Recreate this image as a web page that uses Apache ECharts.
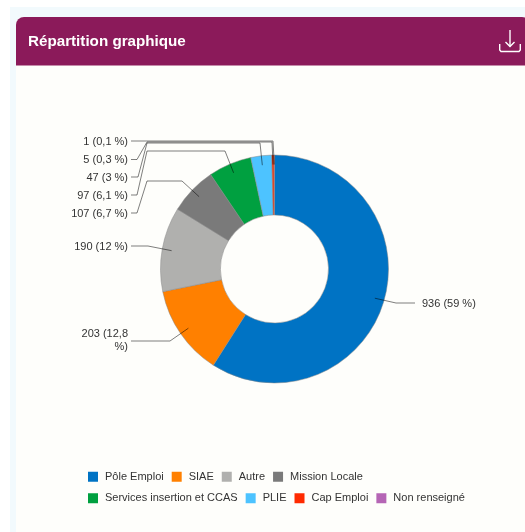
<!DOCTYPE html>
<html><head><meta charset="utf-8">
<style>html,body{margin:0;padding:0;background:#fff}#c{width:525px;height:532px}</style>
<script src="https://cdn.jsdelivr.net/npm/echarts@6/dist/echarts.min.js"></script>
</head><body><div id="c"></div>
<script>
const categories = ['Pôle Emploi','SIAE','Autre','Mission Locale','Services insertion et CCAS','PLIE','Cap Emploi','Non renseigné'];
const values = [936,203,190,107,97,47,5,1];
const colors = ['#0073c4','#ff8000','#b0b0ae','#7a7a7a','#00a040','#4dc3ff','#ff2a00','#b565b5'];
const titleText = 'Répartition graphique';
// label anchor (text edge x, y) and leader elbows, layout only
const labelAnchors = [[422,304],[128,340.5],[128,247],[128,213.5],[128,195.5],[128,177.5],[128,160],[128,142]];
const leaderElbows = [
  [[396,303],[415,303]],
  [[170,341],[131,341]],
  [[148,246],[131,246]],
  [[182,181],[147,181],[137,213],[131,213]],
  [[225,151],[147,151],[137,195],[131,195]],
  [[260,143],[147,143],[138,177],[131,177]],
  [[272,142],[147,142],[137,159.5],[131,159.5]],
  [[273,141],[131,141]]
];
const cx=274.5, cy=269, rIn=54, rOut=114, rAnchor=104.5;
const total = values.reduce((a,b)=>a+b,0);
function pct(v){ return String(+(v/total*100).toFixed(1)).replace('.',','); }
function anchor(i){
  let s=0; for(let k=0;k<i;k++) s+=values[k];
  const a=(s+values[i]/2)/total*2*Math.PI;
  return [cx+rAnchor*Math.sin(a), cy-rAnchor*Math.cos(a)];
}
const chart = echarts.init(document.getElementById('c'),null,{renderer:'canvas'});
chart.setOption({
  animation:false,
  backgroundColor:'#ffffff',
  textStyle:{fontFamily:'"Liberation Sans",Arial,sans-serif'},
  title:{text:titleText,left:28,top:34.5,padding:0,textStyle:{color:'#fff',fontSize:15.2,fontWeight:'bold',fontFamily:'"Liberation Sans",Arial,sans-serif'}},
  legend:{
    left:88,top:470,width:400,padding:0,itemWidth:10,itemHeight:10,itemGap:8,
    icon:'rect',selectedMode:false,itemStyle:{borderWidth:0},
    textStyle:{fontSize:11,color:'#333',height:13.5,lineHeight:13.5,padding:[0,0,0,2],fontFamily:'"Liberation Sans",Arial,sans-serif'},
    data:categories
  },
  graphic:[
    {type:'rect',silent:true,z:-10,shape:{x:10,y:7,width:515,height:525},style:{fill:'#f2fafd'}},
    {type:'rect',silent:true,z:-9,shape:{x:16,y:17,width:514,height:515,r:[8,8,0,0]},style:{fill:'#fefefb'}},
    {type:'rect',silent:true,z:-8,shape:{x:16,y:17,width:514,height:48.5,r:[8,8,0,0]},style:{fill:'#8b1a5a'}},
    {type:'polyline',silent:true,z:-7,shape:{points:[[499.7,44],[499.7,50],[501,51.5],[519,51.5],[520.3,50],[520.3,44]]},style:{stroke:'#fff',lineWidth:1.4,fill:null}},
    {type:'polyline',silent:true,z:-7,shape:{points:[[510,30],[510,46.5]]},style:{stroke:'#fff',lineWidth:1.4,fill:null}},
    {type:'polyline',silent:true,z:-7,shape:{points:[[505.5,42],[510,46.5],[514.5,42]]},style:{stroke:'#fff',lineWidth:1.4,fill:null}}
  ],
  series:[{
    type:'pie',z:1,
    center:[cx,cy],radius:[rIn,rOut],startAngle:90,clockwise:true,
    itemStyle:{borderColor:'#888',borderWidth:0.5},
    label:{show:false},labelLine:{show:false},
    data:categories.map((n,i)=>({name:n,value:values[i],itemStyle:{color:colors[i]}}))
  },{
    // same slices, see-through: carries the labels so their leader lines sit above the ring
    type:'pie',z:2,silent:true,
    center:[cx,cy],radius:[rIn,rOut],startAngle:90,clockwise:true,
    avoidLabelOverlap:false,
    itemStyle:{color:'rgba(0,0,0,0)',borderWidth:0},
    label:{show:true,position:'outside',fontSize:11,color:'#333',lineHeight:13,
      fontFamily:'"Liberation Sans",Arial,sans-serif',
      formatter:p=>p.value+' ('+pct(p.value)+(p.name==='SIAE'?'\n':' ')+'%)'},
    labelLine:{show:true,lineStyle:{color:'rgba(0,0,0,0.5)',width:1}},
    labelLayout:function(p){
      const i=p.dataIndex;
      const pts=[anchor(i)].concat(leaderElbows[i]);
      return {x:labelAnchors[i][0],y:labelAnchors[i][1],align:i===0?'left':'right',verticalAlign:'middle',labelLinePoints:pts};
    },
    data:categories.map((n,i)=>({name:n,value:values[i],label:{align:'right'}}))
  }]
});
</script></body></html>
